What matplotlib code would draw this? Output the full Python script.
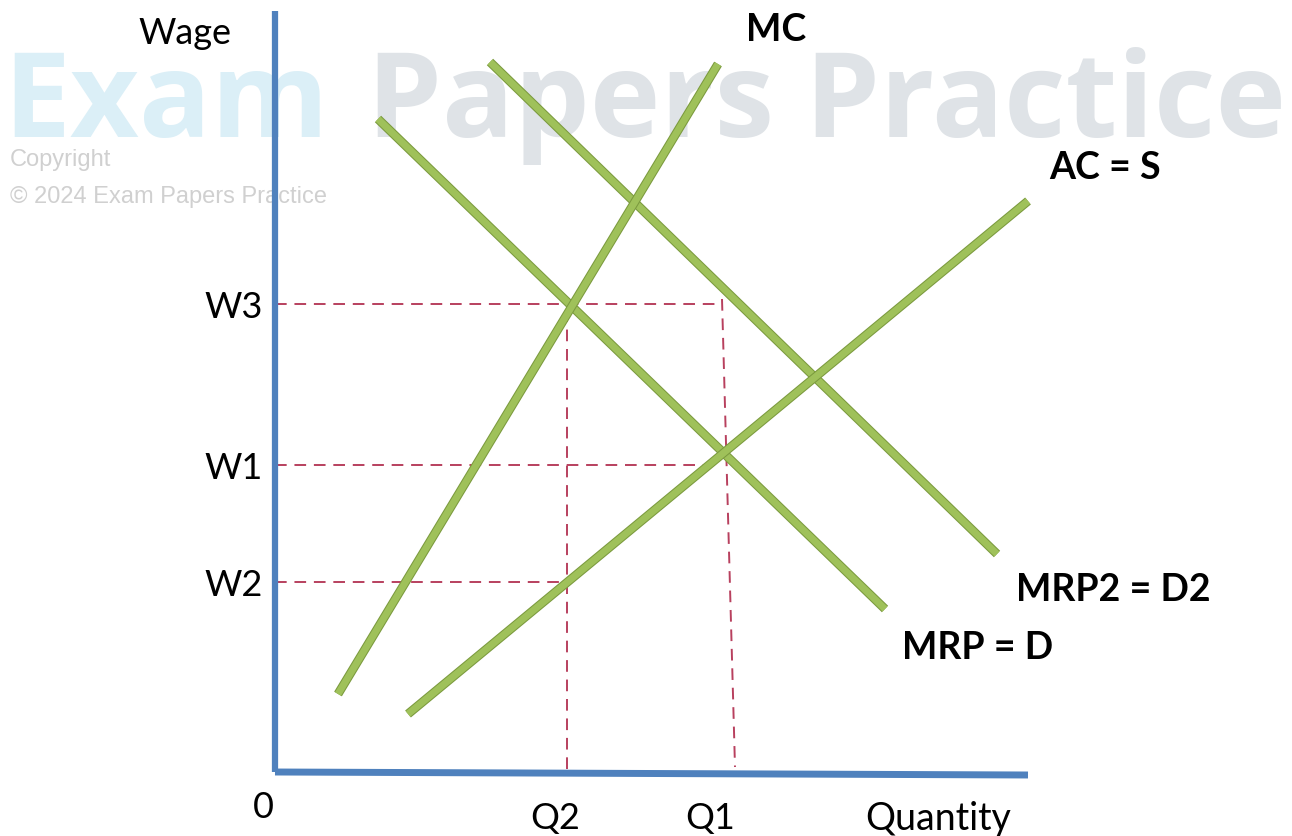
import matplotlib
matplotlib.use("Agg")
import matplotlib.pyplot as plt
import matplotlib.patheffects as pe

# diagram units: quantity to the right, wage upwards, origin at the axes corner
mrp_q = [10.3, 61.0]
mrp_w = [65.3, 16.3]
mrp2_q = [21.5, 72.2]
mrp2_w = [71.0, 21.8]
mc_q = [6.3, 44.3]
mc_w = [7.8, 70.8]
ac_q = [13.3, 75.3]
ac_w = [5.8, 57.1]

w_levels = {"W3": 46.8, "W1": 30.7, "W2": 19.0}
q_levels = {"Q2": 29.2, "Q1": 44.7}
q1_bottom = 46.0
y_axis_top = 76.1
x_axis_end = 75.3

curve_labels = [
    ("MC", 50.1, 74.3),
    ("AC = S", 83.0, 60.5),
    ("MRP2 = D2", 83.8, 18.3),
    ("MRP = D", 70.3, 12.5),
]

GREEN = "#9fc15a"
GREEN_EDGE = "#7b9a3e"
BLUE = "#4f81bd"
DASH = "#b8405e"
FONT = ["Lato", "DejaVu Sans"]

fig = plt.figure(figsize=(12.92, 8.37), dpi=100)
ax = fig.add_axes([0, 0, 1, 1])
ax.set_xlim(-27.5, 101.7)
ax.set_ylim(-6.4, 77.3)
ax.axis("off")

# watermark
ax.text(-27.2, 66.7, "Exam", fontsize=86, fontweight="bold", color="#dbeff7",
        family=["Open Sans", "DejaVu Sans"], va="center", ha="left", zorder=0)
ax.text(9.2, 66.7, "Papers Practice", fontsize=86, fontweight="bold", color="#dfe3e7",
        family=["Open Sans", "DejaVu Sans"], va="center", ha="left", zorder=0)
ax.text(-26.5, 61.3, "Copyright", fontsize=17, color="#d0d0d0",
        family=["Liberation Sans", "DejaVu Sans"], va="center", ha="left", zorder=0)
ax.text(-26.5, 57.6, "\u00a9 2024 Exam Papers Practice", fontsize=17, color="#d0d0d0",
        family=["Liberation Sans", "DejaVu Sans"], va="center", ha="left", zorder=0)

# axes lines
ax.plot([0, 0], [0, y_axis_top], color=BLUE, lw=4.5, solid_capstyle="butt", zorder=3)
ax.plot([0, x_axis_end], [0, -0.3], color=BLUE, lw=5, solid_capstyle="butt", zorder=3)

# dashed guides
dash_kw = dict(color=DASH, lw=1.4, ls=(0, (6, 4)), zorder=1)
ax.plot([0, q_levels["Q1"]], [w_levels["W3"]] * 2, **dash_kw)
ax.plot([0, q_levels["Q1"]], [w_levels["W1"]] * 2, **dash_kw)
ax.plot([0, q_levels["Q2"]], [w_levels["W2"]] * 2, **dash_kw)
ax.plot([q_levels["Q2"]] * 2, [0.3, w_levels["W3"] - 0.5], **dash_kw)
ax.plot([q_levels["Q1"], q1_bottom], [w_levels["W3"] + 0.5, 0.5], **dash_kw)

# curves
stroke = [pe.Stroke(linewidth=6.5, foreground=GREEN_EDGE), pe.Normal()]
for qs, ws in [(mrp_q, mrp_w), (mrp2_q, mrp2_w), (mc_q, mc_w), (ac_q, ac_w)]:
    ax.plot(qs, ws, color=GREEN, lw=5, solid_capstyle="butt", path_effects=stroke, zorder=2)

# axis text
ax.text(-9.0, 74.0, "Wage", fontsize=26, family=FONT, ha="center", va="center")
for name, w in w_levels.items():
    ax.text(-1.2, w - 0.3, name, fontsize=26, family=FONT, ha="right", va="center")
ax.text(-1.2, -3.5, "0", fontsize=26, family=FONT, ha="center", va="center")
for name, q in q_levels.items():
    ax.text(q - 1.2, -4.6, name, fontsize=26, family=FONT, ha="center", va="center")
ax.text(66.3, -4.6, "Quantity", fontsize=27, family=FONT, ha="center", va="center")

for text, q, w in curve_labels:
    ax.text(q, w, text, fontsize=27, fontweight="bold", family=FONT, ha="center", va="center")

fig.savefig("out.png", dpi=100)
